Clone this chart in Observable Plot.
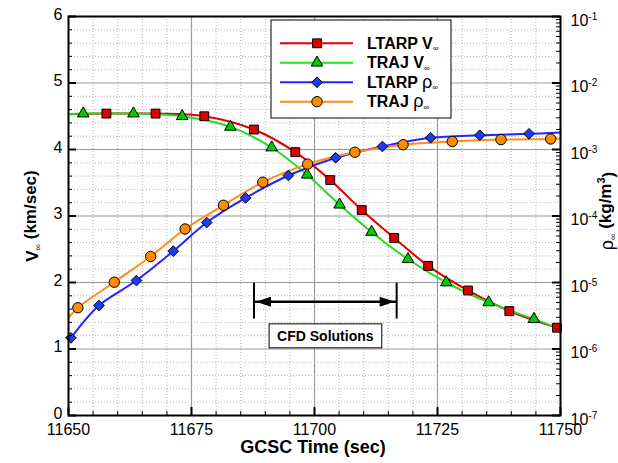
<!DOCTYPE html>
<html><head><meta charset="utf-8">
<script src="https://cdn.jsdelivr.net/npm/d3@7"></script>
<script src="https://cdn.jsdelivr.net/npm/@observablehq/plot@0.6"></script>
<style>
body{margin:0;background:#fff;}
#chart{position:relative;width:618px;height:463px;}
</style></head><body><div id="chart"></div>
<script>
// ---- data ----
const ltarpVTime = [11657.7, 11667.7, 11677.6, 11687.7, 11696.1, 11703.2, 11709.6, 11716.2, 11723.1, 11731.2, 11739.6, 11749.3];
const ltarpV     = [4.54, 4.54, 4.50, 4.30, 3.96, 3.54, 3.09, 2.67, 2.25, 1.88, 1.57, 1.32];
const ltarpVEnds = [4.53, 1.31];

const trajVTime = [11653.0, 11663.2, 11673.1, 11682.9, 11691.3, 11698.5, 11705.1, 11711.6, 11719.0, 11726.8, 11735.4, 11744.6];
const trajV     = [4.54, 4.54, 4.50, 4.34, 4.03, 3.62, 3.17, 2.76, 2.35, 2.00, 1.70, 1.45];
const trajVEnds = [4.53, 1.30];

const ltarpRhoTime = [11650.5, 11656.2, 11663.8, 11671.3, 11678.1, 11686.0, 11694.7, 11704.3, 11713.8, 11723.6, 11733.6, 11743.6];
const ltarpRho     = [1.47e-6, 4.51e-6, 1.07e-5, 2.96e-5, 7.98e-5, 1.87e-4, 4.06e-4, 7.50e-4, 1.11e-3, 1.50e-3, 1.64e-3, 1.72e-3];
const ltarpRhoEnd  = 1.80e-3;

const trajRhoTime = [11651.9, 11659.3, 11666.7, 11673.7, 11681.5, 11689.5, 11698.6, 11708.2, 11718.0, 11728.0, 11737.9, 11748.0];
const trajRho     = [4.17e-6, 1.01e-5, 2.46e-5, 6.38e-5, 1.45e-4, 3.22e-4, 6.03e-4, 9.10e-4, 1.18e-3, 1.32e-3, 1.41e-3, 1.44e-3];
const trajRhoEnds = [2.94e-6, 1.46e-3];

const seriesNames   = ["LTARP V", "TRAJ V", "LTARP ρ", "TRAJ ρ"];
const seriesColors  = ["#e00000", "#22dd22", "#2323ff", "#ff8c14"];
const seriesFills   = ["#dd0000", "#00cc00", "#1e3cf0", "#ff8c00"];
const seriesSymbols = ["square", "triangle", "diamond2", "circle"];
const seriesR       = [5, 4.3, 4.8, 5.2];

const xTicks = [11650, 11675, 11700, 11725, 11750];
const vTicks = [0, 1, 2, 3, 4, 5, 6];
const rhoExponents = [-7, -6, -5, -4, -3, -2, -1];

const cfdRange = [11687.7, 11716.7];
const cfdBarV = [1.45, 1.99];
const cfdArrowV = 1.71;
const cfdLabelV = 1.19;
const cfdLabel = "CFD Solutions";

// ---- layout ----
const W = 618, H = 463, mL = 68, mR = 58, mT = 16, mB = 48;
const pw = W - mL - mR, ph = H - mT - mB;
const FONT = "'Liberation Sans', Arial, Helvetica, sans-serif";

const rhoPos = r => Math.log10(r) + 7; // density decades on the shared 0..6 position
const id = d => d;
function pts(times, vals, f) { return times.map((t, i) => ({t, y: f(vals[i])})); }
const P = [
  pts(ltarpVTime, ltarpV, id),
  pts(trajVTime, trajV, id),
  pts(ltarpRhoTime, ltarpRho, rhoPos),
  pts(trajRhoTime, trajRho, rhoPos)
];
const L = [
  [{t: 11650, y: ltarpVEnds[0]}, ...P[0], {t: 11750, y: ltarpVEnds[1]}],
  [{t: 11650, y: trajVEnds[0]}, ...P[1], {t: 11750, y: trajVEnds[1]}],
  [...P[2], {t: 11750, y: rhoPos(ltarpRhoEnd)}],
  [{t: 11650, y: rhoPos(trajRhoEnds[0])}, ...P[3], {t: 11750, y: rhoPos(trajRhoEnds[1])}]
];

const xMinor = d3.range(11655, 11750, 5).filter(d => d % 25 !== 0);
const xMajorIn = xTicks.slice(1, -1);
const yMinor = d3.range(0.2, 6, 0.2).filter(d => Math.abs(d - Math.round(d)) > 1e-6);
const yMajorIn = vTicks.slice(1, -1);
const rhoMinor = [];
for (const e of rhoExponents.slice(0, -1)) for (let k = 2; k <= 9; k++) rhoMinor.push(Math.log10(k) + e + 7);

const headRight = {draw(c){ c.moveTo(0,0); c.lineTo(-15,-5); c.lineTo(-15,5); c.closePath(); }};
const headLeft  = {draw(c){ c.moveTo(0,0); c.lineTo(15,-5); c.lineTo(15,5); c.closePath(); }};

const marks = [
  Plot.gridX(xMinor, {stroke: "#b4b4b4", strokeOpacity: 1, strokeDasharray: "1,2"}),
  Plot.gridY(yMinor, {stroke: "#b4b4b4", strokeOpacity: 1, strokeDasharray: "1,2"}),
  Plot.gridX(xMajorIn, {stroke: "#9a9a9a", strokeOpacity: 1, strokeWidth: 1.2}),
  Plot.gridY(yMajorIn, {stroke: "#9a9a9a", strokeOpacity: 1, strokeWidth: 1.2}),
];
L.forEach((l, i) => marks.push(Plot.line(l, {x: "t", y: "y", stroke: seriesColors[i], strokeWidth: 2, curve: "catmull-rom"})));
P.forEach((p, i) => marks.push(Plot.dot(p, {x: "t", y: "y", symbol: seriesSymbols[i], r: seriesR[i], fill: seriesFills[i], stroke: "black", strokeWidth: 1})));
marks.push(
  Plot.frame({stroke: "black", strokeWidth: 2}),
  // inward ticks
  Plot.tickY(vTicks, {y: d => d, insetRight: pw - 8, stroke: "black", strokeWidth: 2}),
  Plot.tickY(yMinor, {y: d => d, insetRight: pw - 4, stroke: "black", strokeWidth: 1}),
  Plot.tickY(vTicks, {y: d => d, insetLeft: pw - 8, stroke: "black", strokeWidth: 2}),
  Plot.tickY(rhoMinor, {y: d => d, insetLeft: pw - 4, stroke: "black", strokeWidth: 1}),
  Plot.tickX(xTicks, {x: d => d, insetTop: ph - 8, stroke: "black", strokeWidth: 2}),
  Plot.tickX(xMinor, {x: d => d, insetTop: ph - 4, stroke: "black", strokeWidth: 1}),
  // axes labels
  Plot.axisX({ticks: xTicks, tickSize: 0, tickPadding: 8, label: null, tickFormat: d => `${d}`, fontSize: 16}),
  Plot.axisY({ticks: vTicks, anchor: "left", tickSize: 0, tickPadding: 6, label: null, tickFormat: d => `${d}`, fontSize: 16, dy: -2}),
  Plot.axisY({ticks: vTicks, anchor: "right", tickSize: 0, tickPadding: 10, label: null, tickFormat: d => `10^${d - 7}`, fontSize: 16}),
  // CFD annotation
  Plot.ruleX(cfdRange, {x: d => d, y1: cfdBarV[0], y2: cfdBarV[1], stroke: "black", strokeWidth: 2}),
  Plot.link([0], {x1: cfdRange[0], x2: cfdRange[1], y1: cfdArrowV, y2: cfdArrowV, stroke: "black", strokeWidth: 2.5}),
  Plot.dot([0], {x: cfdRange[0], y: cfdArrowV, symbol: headLeft, fill: "black", stroke: "none", dx: 2}),
  Plot.dot([0], {x: cfdRange[1], y: cfdArrowV, symbol: headRight, fill: "black", stroke: "none", dx: -2}),
  Plot.text([cfdLabel], {x: (cfdRange[0] + cfdRange[1]) / 2, y: cfdLabelV, text: d => d, fontWeight: "bold", fontSize: 14, fill: "black"})
);

const plot = Plot.plot({
  width: W, height: H, marginLeft: mL, marginRight: mR, marginTop: mT, marginBottom: mB,
  style: {fontFamily: FONT, fontSize: "16px", color: "#000", background: "#fff", overflow: "visible"},
  x: {domain: [11650, 11750]},
  y: {domain: [0, 6]},
  marks
});
document.getElementById("chart").appendChild(plot);

const svg = d3.select(plot);
// superscripts on right axis labels
svg.selectAll("text").each(function() {
  const s = this.textContent;
  if (s.startsWith("10^")) {
    const exp = s.slice(3);
    const t = d3.select(this);
    t.selectAll("*").remove();
    t.text("10");
    t.append("tspan").attr("dy", "-0.6em").attr("font-size", "10px").text(exp);
    t.attr("transform", (t.attr("transform") || "") + " translate(0,4)");
  }
});

// box around CFD label
svg.selectAll("text").filter(function(){ return this.textContent === cfdLabel; }).each(function() {
  const bb = this.getBBox();
  const ctm = this.getAttribute("transform");
  const r = document.createElementNS("http://www.w3.org/2000/svg", "rect");
  r.setAttribute("x", bb.x - 8); r.setAttribute("y", bb.y - 4);
  r.setAttribute("width", bb.width + 16); r.setAttribute("height", bb.height + 8);
  r.setAttribute("fill", "white"); r.setAttribute("stroke", "black"); r.setAttribute("stroke-width", 1);
  if (ctm) r.setAttribute("transform", ctm);
  this.parentNode.insertBefore(r, this);
});

// axis titles
function title(x, y, rot, parts, size) {
  const t = svg.append("text").attr("transform", `translate(${x},${y}) rotate(${rot})`)
    .attr("text-anchor", "middle").attr("font-family", FONT).attr("font-size", size).attr("fill", "black");
  parts.forEach(p => {
    const ts = t.append("tspan").text(p.s).attr("font-weight", p.w || "bold");
    if (p.size) ts.attr("font-size", p.size);
    if (p.dy) ts.attr("dy", p.dy);
  });
  return t;
}
title(38, 216, -90, [{s: "V"}, {s: "∞", w: "normal", size: 9, dy: "0.3em"}, {s: " (km/sec)", dy: "-0.3em"}], 17);
title(613, 211, -90, [{s: "ρ", w: "normal", size: 18}, {s: "∞", w: "normal", size: 9, dy: "0.3em"}, {s: " (kg/m", dy: "-0.3em"}, {s: "3", size: 11, dy: "-0.5em"}, {s: ")", dy: "0.5em"}], 17);
title(313, 453, 0, [{s: "GCSC Time (sec)"}], 18);

// legend
const lg = svg.append("g").attr("transform", "translate(271,20)");
lg.append("rect").attr("width", 180).attr("height", 98).attr("fill", "white").attr("stroke", "black").attr("stroke-width", 1);
const rowY = [23.3, 42.7, 62.3, 81.7];
const symMap = {square: d3.symbolSquare, triangle: d3.symbolTriangle, diamond2: d3.symbolDiamond2, circle: d3.symbolCircle};
seriesNames.forEach((name, i) => {
  const y = rowY[i];
  lg.append("line").attr("x1", 9).attr("x2", 82).attr("y1", y).attr("y2", y).attr("stroke", seriesColors[i]).attr("stroke-width", 2);
  lg.append("path").attr("d", d3.symbol(symMap[seriesSymbols[i]], seriesR[i] * seriesR[i] * Math.PI)())
    .attr("transform", `translate(46,${y})`).attr("fill", seriesFills[i]).attr("stroke", "black");
  const t = lg.append("text").attr("x", 96).attr("y", y).attr("dy", "0.35em").attr("text-anchor", "start")
    .attr("font-family", FONT).attr("font-size", 16).attr("fill", "black");
  const base = name.slice(0, -1), last = name.slice(-1);
  t.append("tspan").attr("font-weight", "bold").text(base);
  if (last === "ρ") t.append("tspan").attr("font-size", 18).text("ρ");
  else t.append("tspan").attr("font-weight", "bold").text(last);
  t.append("tspan").attr("font-size", 8).attr("dy", "0.3em").text("∞");
});
</script></body></html>
